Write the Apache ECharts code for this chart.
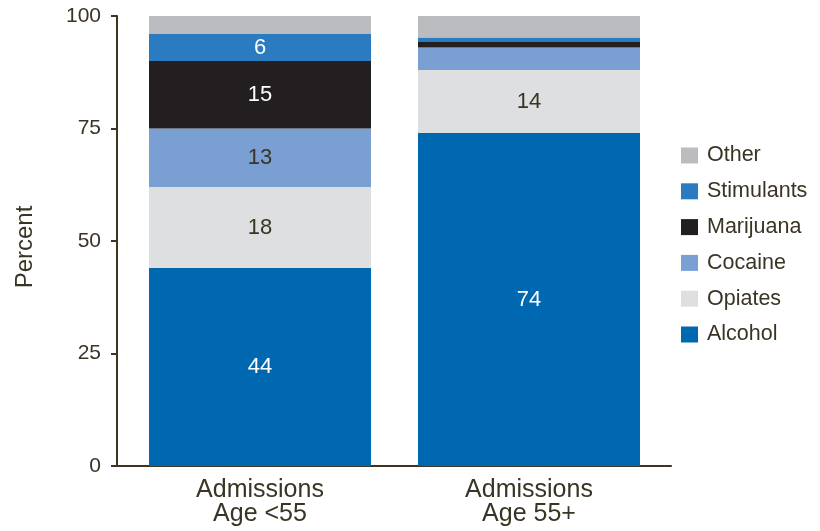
<!DOCTYPE html>
<html>
<head>
<meta charset="utf-8">
<script src="https://cdn.jsdelivr.net/npm/echarts@6/dist/echarts.min.js"></script>
<style>
html,body{margin:0;padding:0;background:#fff;}
#chart{width:820px;height:531px;}
</style>
</head>
<body>
<div id="chart"></div>
<script>
var categories = ['Admissions\nAge <55', 'Admissions\nAge 55+'];
var seriesNames = ['Alcohol', 'Opiates', 'Cocaine', 'Marijuana', 'Stimulants', 'Other'];
var alcohol = [44, 74];
var opiates = [18, 14];
var cocaine = [13, 5];
var marijuana = [15, 1.2];
var stimulants = [6, 1];
var other = [4, 5];
var yTicks = [0, 25, 50, 75, 100];

var values = [alcohol, opiates, cocaine, marijuana, stimulants, other];
var colors = ['#0067b1', '#dedfe1', '#7a9fd3', '#231f20', '#2a7bbf', '#bbbcbf'];
var labelColors = ['#ffffff', '#3a3424', '#3a3424', '#ffffff', '#ffffff', '#3a3424'];
var textColor = '#3a3424';
var axisColor = '#3d3520';
var font = "'Liberation Sans', Arial, Helvetica, sans-serif";

var series = seriesNames.map(function (name, i) {
  return {
    name: name,
    type: 'bar',
    stack: 'total',
    xAxisIndex: 0,
    yAxisIndex: 0,
    barWidth: 222,
    itemStyle: { color: colors[i] },
    label: {
      show: true,
      position: 'inside',
      color: labelColors[i],
      fontFamily: font,
      fontSize: 22,
      formatter: function (p) {
        return (name !== 'Other' && p.value >= 6) ? String(p.value) : '';
      }
    },
    data: values[i]
  };
});

var chart = echarts.init(document.getElementById('chart'), null, { renderer: 'canvas' });
chart.setOption({
  animation: false,
  backgroundColor: '#ffffff',
  textStyle: { fontFamily: font },
  grid: [
    { left: 125.5, right: 156.5, top: 16, bottom: 65 },
    { left: 117, right: 149, top: 16, bottom: 65 }
  ],
  legend: {
    orient: 'vertical',
    left: 676,
    top: 139.5,
    itemWidth: 17,
    itemHeight: 16,
    itemGap: 13.8,
    icon: 'rect',
    data: seriesNames.slice().reverse(),
    textStyle: { color: textColor, fontSize: 21.5, lineHeight: 17, fontFamily: font, padding: [0, 0, 0, 4] }
  },
  xAxis: [
    {
      type: 'category',
      gridIndex: 0,
      data: categories,
      axisLine: { show: false },
      axisTick: { show: false },
      axisLabel: {
        color: textColor,
        fontSize: 25,
        lineHeight: 24,
        margin: 12,
        fontFamily: font
      }
    },
    {
      type: 'category',
      gridIndex: 1,
      data: ['', ''],
      axisLine: { show: true, lineStyle: { color: axisColor, width: 2 } },
      axisTick: { show: false },
      axisLabel: { show: false }
    }
  ],
  yAxis: [
    {
      type: 'value',
      gridIndex: 0,
      min: yTicks[0],
      max: yTicks[yTicks.length - 1],
      interval: 25,
      offset: 8.5,
      name: 'Percent',
      nameLocation: 'middle',
      nameGap: 80,
      nameTextStyle: { color: textColor, fontSize: 24, fontFamily: font, padding: [0, 12, 0, 0] },
      splitLine: { show: false },
      axisLine: { show: true, lineStyle: { color: axisColor, width: 2 } },
      axisTick: { show: true, length: 6, lineStyle: { color: axisColor, width: 2 } },
      axisLabel: { color: textColor, fontSize: 21, margin: 16, fontFamily: font }
    },
    {
      type: 'value',
      gridIndex: 1,
      show: false,
      min: 0,
      max: 100
    }
  ],
  series: series
});
</script>
</body>
</html>
